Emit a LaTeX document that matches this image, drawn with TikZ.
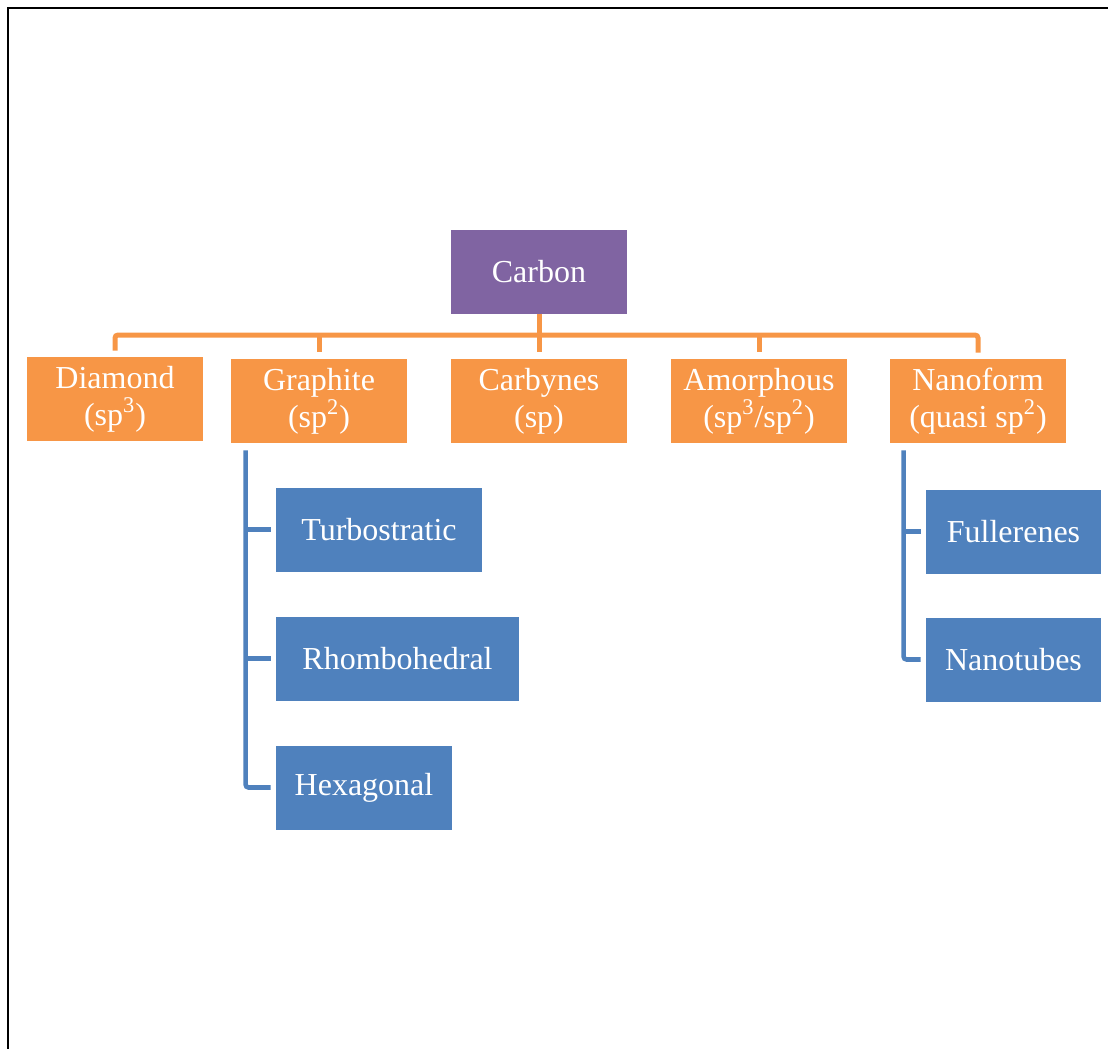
\documentclass[tikz,border=0pt]{standalone}
\usepackage{fontspec}
\setmainfont{Liberation Serif}
\usepackage{xcolor}
\usepackage{tikz}
\usetikzlibrary{positioning,calc}
\definecolor{CPurple}{HTML}{8064A2}
\definecolor{COrange}{HTML}{F79646}
\definecolor{CBlue}  {HTML}{4F81BD}

\begin{document}
\begin{tikzpicture}[x=0.5pt,y=-0.5pt,
    box/.style={minimum height=42pt,minimum width=88pt,inner sep=0pt,
      text=white,align=center,font=\fontsize{16}{18.5}\selectfont},
    topbox/.style={box,fill=CPurple},
    formbox/.style={box,fill=COrange},
    subbox/.style={box,fill=CBlue},
    oline/.style={draw=COrange,line width=2.5pt,rounded corners=1.5pt},
    bline/.style={draw=CBlue,line width=2.3pt,rounded corners=1.5pt}
  ]
    \useasboundingbox (0,0) rectangle (1108,1049);
    \draw[line width=1pt](8,1049)--(8,8)--(1108,8);

    \node[topbox](carbon) at (539,272) {Carbon};
    \node[formbox](diamond)  at (115,399) {Diamond\\(sp\textsuperscript{3})};
    \node[formbox](graphite) at (319,401) {Graphite\\(sp\textsuperscript{2})};
    \node[formbox](carbynes) at (539,401) {Carbynes\\(sp)};
    \node[formbox](amorph)   at (759,401) {Amorphous\\(sp\textsuperscript{3}/sp\textsuperscript{2})};
    \node[formbox](nano)     at (978,401) {Nanoform\\(quasi sp\textsuperscript{2})};

    \node[subbox,minimum width=103pt](turbo)    at (379,529.5) {Turbostratic};
    \node[subbox,minimum width=121.5pt](rhombo) at (397.5,658.5) {Rhombohedral};
    \node[subbox](hexa)                         at (364,787.5) {Hexagonal};
    \node[subbox,minimum width=87.5pt](fuller)  at (1013.5,531.5) {Fullerenes};
    \node[subbox,minimum width=87.5pt](tubes)   at (1013.5,659.5) {Nanotubes};

    % orange tree
    \coordinate(bus) at (539,335);
    \draw[oline](carbon.south)--(bus);
    \draw[oline,shorten <=3pt,shorten >=3pt](diamond.north)|-(bus)-|(nano.north);
    \foreach \n in {graphite,carbynes,amorph}
      \draw[oline,shorten >=3.5pt](\n.north|-bus)--(\n.north);

    % blue brackets
    \coordinate(gtop) at ([xshift=7.5pt,yshift=-3.5pt]graphite.south west);
    \draw[bline,shorten >=2.5pt](gtop)|-(hexa.west);
    \foreach \n in {turbo,rhombo}
      \draw[bline,shorten >=2.5pt](gtop|-\n.west)--(\n.west);
    \coordinate(ntop) at ([xshift=7pt,yshift=-3.5pt]nano.south west);
    \draw[bline,shorten >=2.5pt](ntop)|-(tubes.west);
    \draw[bline,shorten >=2.5pt](ntop|-fuller.west)--(fuller.west);
  \end{tikzpicture}
\end{document}
